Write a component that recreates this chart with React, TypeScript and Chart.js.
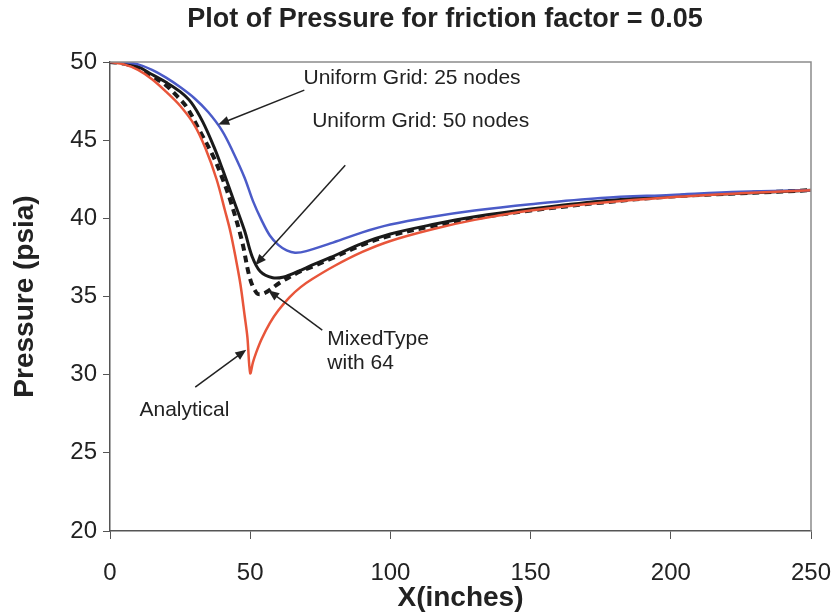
import React, { useEffect, useRef } from 'react';
import { Chart, registerables } from 'chart.js';

Chart.register(...registerables);

const TITLE = 'Plot of Pressure for friction factor = 0.05';
const X_TITLE = 'X(inches)';
const Y_TITLE = 'Pressure (psia)';

// Analytical (red)
const xAnalytical = [0, 5, 10, 15, 20, 25, 30, 34, 38, 41, 43, 45, 46.5, 48, 49, 50, 51, 52, 54, 57, 60, 64, 68, 72, 80, 90, 100, 115, 130, 150, 175, 200, 225, 250];
const pAnalytical = [50, 49.85, 49.5, 48.9, 48.1, 47.2, 46.0, 44.5, 42.5, 40.5, 39.1, 37.3, 35.8, 33.8, 32.4, 30.1, 30.8, 31.35, 32.25, 33.3, 34.1, 34.95, 35.6, 36.1, 36.95, 37.85, 38.55, 39.3, 39.9, 40.5, 41.0, 41.35, 41.6, 41.8];

// Uniform Grid: 25 nodes (blue)
const xGrid25 = [0, 5, 10, 15, 20, 25, 30, 35, 40, 44, 48, 51, 54, 57, 60, 63, 66, 70, 78.6, 90, 100, 115, 130, 150, 175, 200, 225, 250];
const pGrid25 = [50, 50, 49.85, 49.5, 49.0, 48.4, 47.7, 46.8, 45.6, 44.2, 42.6, 41.1, 39.9, 38.9, 38.3, 37.95, 37.8, 37.9, 38.4, 39.1, 39.6, 40.1, 40.5, 40.9, 41.3, 41.5, 41.7, 41.8];

// Uniform Grid: 50 nodes (black solid)
const xGrid50 = [0, 5, 10, 15, 20, 25, 29, 33, 37, 40, 44, 48, 50.6, 53.6, 58, 62, 67, 72, 78.6, 90, 100, 115, 130, 150, 175, 200, 225, 250];
const pGrid50 = [50, 49.95, 49.7, 49.2, 48.7, 48.1, 47.4, 46.2, 44.6, 43.2, 41.2, 39.2, 37.6, 36.6, 36.2, 36.25, 36.6, 37.0, 37.5, 38.4, 39.0, 39.6, 40.1, 40.6, 41.1, 41.4, 41.6, 41.8];

// MixedType with 64 (black dashed)
const xMixed64 = [0, 5, 10, 15, 20, 24, 27.4, 32, 37, 40, 43, 47, 50, 52.4, 54, 56, 60.7, 67.8, 72, 78.6, 90, 100, 115, 130, 150, 175, 200, 225, 250];
const pMixed64 = [50, 49.9, 49.6, 49.1, 48.5, 47.8, 47.1, 45.6, 43.9, 42.6, 41.1, 38.6, 36.1, 35.2, 35.15, 35.3, 35.9, 36.6, 36.9, 37.4, 38.3, 38.9, 39.5, 40.0, 40.5, 41.0, 41.4, 41.6, 41.8];

const xTicksMin = 0, xTicksMax = 250, xTicksStep = 50;
const yTicksMin = 20, yTicksMax = 50, yTicksStep = 5;

const toPoints = (xs: number[], ys: number[]) => xs.map((x, i) => ({ x, y: ys[i] }));

const FONT = '"Liberation Sans", Arial, Helvetica, sans-serif';

type Note = { lines: string[]; tx: number; ty: number; from: [number, number]; to: [number, number] };
const notes: Note[] = [
  { lines: ['Uniform Grid: 25 nodes'], tx: 69.0, ty: 48.95, from: [69.3, 48.2], to: [38.6, 46.0] },
  { lines: ['Uniform Grid: 50 nodes'], tx: 72.1, ty: 46.2, from: [83.9, 43.4], to: [51.8, 37.0] },
  { lines: ['MixedType', 'with 64'], tx: 77.5, ty: 32.3, from: [75.7, 32.85], to: [56.4, 35.4] },
  { lines: ['Analytical'], tx: 10.5, ty: 27.7, from: [30.4, 29.2], to: [48.6, 31.6] },
];

const overlay = {
  id: 'overlay',
  afterDraw(chart: any) {
    const { ctx, chartArea, scales } = chart;
    const { left, top, right, bottom } = chartArea;
    const xs = scales.x, ys = scales.y;
    ctx.save();
    ctx.strokeStyle = '#8c8c8c';
    ctx.lineWidth = 1.5;
    ctx.beginPath();
    ctx.moveTo(left, top);
    ctx.lineTo(right, top);
    ctx.lineTo(right, bottom);
    ctx.stroke();

    ctx.fillStyle = '#222';
    ctx.font = `bold 27px ${FONT}`;
    ctx.textAlign = 'center';
    ctx.textBaseline = 'middle';
    ctx.fillText(TITLE, 445, 20);

    ctx.font = `21px ${FONT}`;
    ctx.textAlign = 'left';
    notes.forEach((n) => {
      const px = xs.getPixelForValue(n.tx);
      const py = ys.getPixelForValue(n.ty);
      n.lines.forEach((l, i) => ctx.fillText(l, px, py + i * 24));
      const x1 = xs.getPixelForValue(n.from[0]);
      const y1 = ys.getPixelForValue(n.from[1]);
      const x2 = xs.getPixelForValue(n.to[0]);
      const y2 = ys.getPixelForValue(n.to[1]);
      const ang = Math.atan2(y2 - y1, x2 - x1);
      const hl = 11, hw = 4.5;
      ctx.strokeStyle = '#222';
      ctx.lineWidth = 1.5;
      ctx.beginPath();
      ctx.moveTo(x1, y1);
      ctx.lineTo(x2 - Math.cos(ang) * hl * 0.8, y2 - Math.sin(ang) * hl * 0.8);
      ctx.stroke();
      ctx.beginPath();
      ctx.moveTo(x2, y2);
      ctx.lineTo(x2 - Math.cos(ang) * hl - Math.sin(ang) * hw, y2 - Math.sin(ang) * hl + Math.cos(ang) * hw);
      ctx.lineTo(x2 - Math.cos(ang) * hl + Math.sin(ang) * hw, y2 - Math.sin(ang) * hl - Math.cos(ang) * hw);
      ctx.closePath();
      ctx.fill();
    });
    ctx.restore();
  },
};

export default function App() {
  const ref = useRef<HTMLCanvasElement | null>(null);
  useEffect(() => {
    if (!ref.current) return;
    Chart.defaults.font.family = FONT;
    const chart = new Chart(ref.current, {
      type: 'line',
      data: {
        datasets: [
          { label: 'Analytical', data: toPoints(xAnalytical, pAnalytical), borderColor: '#E8553A', borderWidth: 2.5 },
          { label: 'Uniform Grid: 25 nodes', data: toPoints(xGrid25, pGrid25), borderColor: '#4B5BC8', borderWidth: 2.5 },
          { label: 'Uniform Grid: 50 nodes', data: toPoints(xGrid50, pGrid50), borderColor: '#1a1a1a', borderWidth: 3 },
          { label: 'MixedType with 64', data: toPoints(xMixed64, pMixed64), borderColor: '#1a1a1a', borderWidth: 4, borderDash: [7, 5] },
        ],
      },
      options: {
        responsive: false,
        animation: false,
        devicePixelRatio: 1,
        layout: { padding: { left: 0, top: 62, right: 23, bottom: 0 } },
        elements: { point: { radius: 0 }, line: { tension: 0.35 } },
        plugins: { legend: { display: false }, tooltip: { enabled: false }, title: { display: false } },
        scales: {
          x: {
            type: 'linear',
            min: xTicksMin,
            max: xTicksMax,
            afterFit: (s: any) => { s.height = 83; s.paddingLeft = 0; s.paddingRight = 0; },
            ticks: { stepSize: xTicksStep, color: '#222', font: { size: 24 }, padding: 20, maxRotation: 0 },
            grid: { drawOnChartArea: false, drawTicks: true, tickLength: 8, color: '#555' },
            border: { color: '#555', width: 1.5 },
            title: { display: true, text: X_TITLE, color: '#222', font: { size: 28, weight: 'bold', lineHeight: 1 }, padding: { top: 0, bottom: 2 } },
          },
          y: {
            type: 'linear',
            min: yTicksMin,
            max: yTicksMax,
            afterFit: (s: any) => { s.width = 110; s.paddingTop = 0; s.paddingBottom = 0; },
            ticks: { stepSize: yTicksStep, color: '#222', font: { size: 24 }, padding: 6 },
            grid: { drawOnChartArea: false, drawTicks: true, tickLength: 7, color: '#555' },
            border: { color: '#555', width: 1.5 },
            title: { display: true, text: Y_TITLE, color: '#222', font: { size: 28, weight: 'bold', lineHeight: 1 }, padding: { top: 11, bottom: 0 } },
          },
        },
      },
      plugins: [overlay],
    } as any);
    return () => chart.destroy();
  }, []);
  return (
    <div style={{ position: 'absolute', left: 0, top: 0, width: 834, height: 614, background: '#fff' }}>
      <canvas ref={ref} width={834} height={614} style={{ width: 834, height: 614 }} />
    </div>
  );
}
